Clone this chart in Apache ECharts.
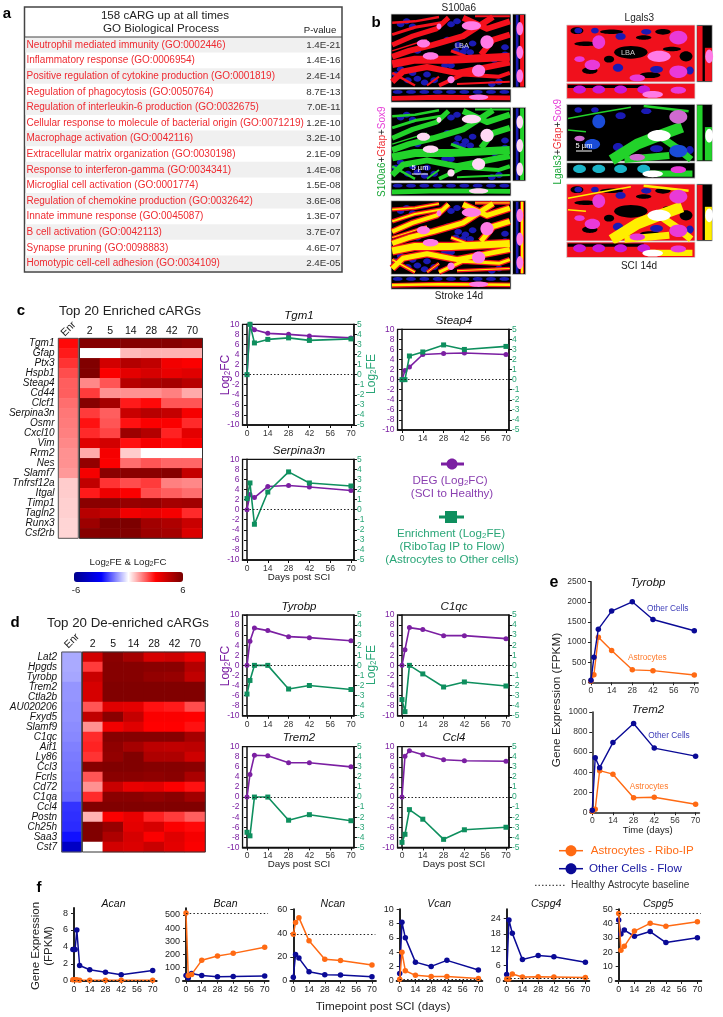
<!DOCTYPE html>
<html><head><meta charset="utf-8">
<style>html,body{margin:0;padding:0;background:#fff}#c{width:723px;height:1017px}</style>
<script src="https://cdn.jsdelivr.net/npm/echarts@6/dist/echarts.min.js"></script>
</head><body><div id="c"></div>
<script>
/* ---------- data ---------- */
const goTerms = ["Neutrophil mediated immunity (GO:0002446)","Inflammatory response (GO:0006954)","Positive regulation of cytokine production (GO:0001819)","Regulation of phagocytosis (GO:0050764)","Regulation of interleukin-6 production (GO:0032675)","Cellular response to molecule of bacterial origin (GO:0071219)","Macrophage activation (GO:0042116)","Extracellular matrix organization (GO:0030198)","Response to interferon-gamma (GO:0034341)","Microglial cell activation (GO:0001774)","Regulation of chemokine production (GO:0032642)","Innate immune response (GO:0045087)","B cell activation (GO:0042113)","Synapse pruning (GO:0098883)","Homotypic cell-cell adhesion (GO:0034109)"];
const goP = ["1.4E-21","1.4E-16","2.4E-14","8.7E-13","7.0E-11","1.2E-10","3.2E-10","2.1E-09","1.4E-08","1.5E-08","3.6E-08","1.3E-07","3.7E-07","4.6E-07","2.4E-05"];

const hmCols = ["2","5","14","28","42","70"];
const enrichedGenes = ["Tgm1","Gfap","Ptx3","Hspb1","Steap4","Cd44","Clcf1","Serpina3n","Osmr","Cxcl10","Vim","Rrm2","Nes","Slamf7","Tnfrsf12a","Itgal","Timp1","Tagln2","Runx3","Csf2rb"];
const enrichedEnr = [2.9,2.7,2.4,2.1,1.9,1.9,1.7,1.6,1.55,1.5,1.4,1.3,1.3,1.2,0.6,0.6,0.55,0.55,0.5,0.5];
const enrichedFC = [
[5.7,5.7,5.7,5.7,5.7,5.5],[0,0,0.8,0.9,0.9,0.9],[5.8,4,4.7,4.4,3.3,3.1],[5.8,3.1,3.6,3.9,3.5,3.7],[1.4,2,4.6,4.9,5,4.6],
[2.3,1.3,1.3,1.3,1.5,1.0],[5.7,5,2.7,2.9,2,2],[2.3,1.9,4.2,4.6,4.3,3.2],[2.8,2,2.8,3.1,3.1,2.5],[2.5,2.2,5.2,4.7,2.6,3.6],
[3.7,4,2.8,3.2,2.9,3.1],[1,3.2,0.6,0,0,0],[5.4,3.1,1.7,2,1.8,1.8],[3.2,5.6,5.6,5.6,5.7,4.3],[4.4,2.4,2.1,2.3,1.5,1.4],
[2.7,3.4,3.1,2.1,1.9,1.7],[5.6,5.6,5.3,5.4,5,5.1],[4.6,4.3,3.3,3.5,3.2,2.5],[5.2,5.9,5.9,5.1,4.8,4.2],[5.7,5.8,5.8,5.2,5,3.8]];

const deenrichedGenes = ["Lat2","Hpgds","Tyrobp","Trem2","Ctla2b","AU020206","Fxyd5","Slamf9","C1qc","Aif1","Ly86","Ccl3","Fcrls","Cd72","C1qa","Ccl4","Postn","Ch25h","Saa3","Cst7"];
const deenrichedEnr = [-1,-1,-1.05,-1.25,-1.25,-1.3,-1.3,-1.35,-1.4,-1.5,-1.55,-1.6,-1.65,-1.7,-1.8,-2.4,-2.45,-2.5,-2.8,-4.5];
const deenrichedFC = [
[4,5.6,5,3.9,4.1,3.5],[2.3,5.7,5.7,5.6,5.6,4.7],[4.2,5.7,5.7,5.4,5.3,4.4],[3.9,5.8,5.8,5.8,5.8,5.8],[3.9,5.8,5.8,5.8,5.8,5.8],
[2,3.7,3.6,2.8,2.7,2.1],[4.4,5.6,4.3,3.1,3.1,3],[1.3,3.3,3.7,3,3,2.8],[2.5,5.7,5.7,5.7,5.7,5],[2.6,5.5,5,4.5,4.4,4.5],
[2.4,5.4,5.8,4.8,4.8,4.1],[5.7,5.8,5.8,5.7,5.7,5.6],[2,5.6,5.6,5.5,5.6,4.9],[1.3,4.2,3.5,3.6,3.1,2.8],[2.5,5.6,5.6,5.4,5.6,5.1],
[5.8,5.8,5.8,5.8,5.8,5.8],[0.9,3.1,3.5,2.6,2.3,1.9],[5.8,5.3,3.6,3.9,3.1,2.9],[5.8,4.8,3.9,3.1,3.7,3.2],[0,4,3.8,4.2,3.6,3.1]];

const days = [0,2,5,14,28,42,70];
const dayTicks = [0,14,28,42,56,70];
const tgm1FC = [0,10,8.9,8.2,8.0,7.7,7.3],           tgm1FE = [0,5,3.15,3.5,3.65,3.4,3.55];
const steap4FC = [0,1.8,2.5,5,5.2,5.3,5],            steap4FE = [0,0,2.35,2.75,3.45,3,3.3];
const serpina3nFC = [0,3,2.4,4.6,4.8,4.5,3.8],       serpina3nFE = [1.1,2.65,-1.45,1.75,3.75,2.65,2.35];
const tyrobpFC = [0,4.8,7.4,6.9,5.7,5.5,4.9],        tyrobpFE = [-2.85,-1.5,0,0,-2.35,-2,-2.4];
const c1qcFC = [0,3.1,7.5,7.1,5.9,5.9,5.3],          c1qcFE = [-3.4,-4.6,0,-0.85,-2.15,-1.65,-2.05];
const trem2FC = [0,4.5,8.3,8.2,6.8,6.8,6],           trem2FE = [-3.5,-3.85,0,0,-2.3,-1.75,-2.35];
const ccl4FC = [0,8.1,9.2,8.4,7.4,7.2,7.1],          ccl4FE = [-4.5,-3.7,-1.25,-2.2,-4.2,-3.25,-3];

const tyrobpOther = [50,620,1320,1770,2000,1560,1280], tyrobpAstro = [30,190,1120,790,310,290,180];
const trem2Other = [20,545,445,695,885,640,560],       trem2Astro = [10,30,415,380,145,150,80];

const acanDays = [-1,1,2.5,5,14,28,42,70];
const acanOther = [3.7,3.7,6,1.8,1.3,1,0.7,1.2],  acanAstro = [0.1,0.1,0.1,0.05,0.05,0.05,0.05,0.05];
const bcanOther = [40,20,55,40,30,32,35],         bcanAstro = [515,40,48,155,188,208,255];
const ncanOther = [3,22,19,7.5,5,4.8,3.4],        ncanAstro = [39,49,53,33.5,18,17,13.2];
const vcanOther = [1,8.2,6,2.6,2,2.85,1.5],       vcanAstro = [0.2,4,1.4,0.75,0.6,0.6,0.3];
const cspg4Other = [2.5,23.3,18.2,8.2,9.7,9.3,7.2], cspg4Astro = [0.8,0.8,2.7,1.5,1.6,1.5,1.3];
const cspg5Other = [42.5,32.8,35.5,31.2,34.5,26.8,30.2], cspg5Astro = [47,21.5,24.2,34.8,40.2,38.2,41.3];

/* ---------- styles ---------- */
const FONT='"Liberation Sans",Arial,sans-serif';
const PUR='#7b1fa2', GRN='#0e8f5e', GRNT='#2aa678', ORG='#ff6a13', NAVY='#0a0a96', TXT='#222';
const option={animation:false,backgroundColor:'#fff',textStyle:{fontFamily:FONT},
  grid:[],xAxis:[],yAxis:[],series:[],graphic:{elements:[]},visualMap:[]};
const G=option.graphic.elements;
function T(x,y,text,o={}){
  G.push({type:'text',x,y,rotation:o.rot||0,z:50,silent:true,style:{text,fontFamily:FONT,fontSize:o.s||10,fontStyle:o.i?'italic':'normal',
    fontWeight:o.b?'bold':'normal',fill:o.c||TXT,align:o.a||'center',verticalAlign:'middle',rich:o.rich}});
}
function R(x,y,w,h,fill,stroke,lw,z){G.push({type:'rect',z:z||5,silent:true,shape:{x,y,width:w,height:h},style:{fill:fill||'none',stroke:stroke||'none',lineWidth:lw||0}});}
function addGrid(left,top,width,height,extra){option.grid.push(Object.assign({left,top,width,height},extra||{}));return option.grid.length-1;}

/* ---------- a: table ---------- */
R(24.5,7,317.5,265,'#fff','#444',1.5);
goTerms.forEach((t,i)=>{
  const y=37+i*15.6;
  if(i%2===0) R(25.5,y,315.5,15.6,'#f0f0f0');
  T(26.5,y+8,t,{a:'left',s:10,c:'#ee2a30'});
  T(340.5,y+8,goP[i],{a:'right',s:9.8,c:'#333'});
});
G.push({type:'line',z:6,silent:true,shape:{x1:24.5,y1:37,x2:342,y2:37},style:{stroke:'#444',lineWidth:1}});
T(165,16,'158 cARG up at all times',{s:11.6,c:'#222'});
T(161,29,'GO Biological Process',{s:11.6,c:'#222'});
T(320,30,'P-value',{s:9.6,c:'#222'});

/* ---------- b: micrographs (schematic stand-ins for photographs) ---------- */
const fibersS=[[[[.01,.12],[.2,.1],[.4,.04]],2.5],[[[.01,.28],[.2,.18],[.42,.12]],3],[[[.01,.42],[.18,.3],[.38,.2],[.48,.05]],5],[[[.01,.58],[.15,.5],[.35,.42],[.6,.3],[.85,.04]],6],
 [[[.01,.68],[.2,.62],[.5,.62],[.99,.58]],8],[[[.01,.92],[.1,.78],[.3,.72],[.55,.8],[.99,.66]],6],[[[.4,.97],[.6,.82],[.9,.85],[.99,.8]],4],
 [[[.6,.05],[.8,.2],[.99,.1]],6],[[[.75,.55],[.85,.35],[.99,.28]],6],[[[.01,.8],[.2,.97]],2.5],[[[.5,.5],[.7,.62]],3],[[[.7,.03],[.99,.03]],2],[[[.01,.5],[.3,.35]],1.5],[[[.55,.95],[.99,.92]],2],[[[.3,.97],[.4,.85]],2]];
const nucS=[[.67,.16,.08,.06],[.27,.4,.055,.055],[.33,.57,.065,.05],[.8,.38,.055,.09],[.73,.77,.055,.08],[.5,.89,.03,.05],[.4,.17,.02,.04]];
const blueS=[[.22,.88],[.3,.82],[.14,.9],[.28,.93],[.36,.9],[.18,.8],[.08,.14],[.13,.1],[.18,.17],[.56,.42],[.62,.46],[.68,.4],[.6,.52],[.66,.52],[.54,.5],[.95,.45],[.95,.55],[.8,.6],[.86,.62],[.08,.75],[.04,.82],[.45,.7],[.5,.7],[.9,.92],[.84,.95],[.55,.1],[.5,.14],[.22,.5],[.47,.35]];
function ell(cx,cy,rx,ry,fill,z){G.push({type:'ellipse',z:z||6,silent:true,shape:{cx,cy,rx,ry},style:{fill}});}
function poly(pts,w,c,z){G.push({type:'polyline',z:z||6,silent:true,shape:{points:pts},style:{stroke:c,lineWidth:w,fill:'none',lineJoin:'round'}});}
function micS(x,y,w,h,mode){
  R(x,y,w,h,'#000');
  blueS.forEach(b=>ell(x+b[0]*w,y+b[1]*h,3.8,3,'#1a1ab4'));
  const map=p=>[x+p[0]*w,y+p[1]*h];
  if(mode!=='g') fibersS.forEach(f=>poly(f[0].map(map),f[1]+(mode==='m'?1.5:0),'#f5101c'));
  if(mode!=='r') fibersS.forEach(f=>poly(f[0].map(map),Math.max(1,f[1]-(mode==='m'?1:0)),mode==='m'?'#ffee00':'#22d22a'));
  nucS.forEach(n=>ell(x+n[0]*w,y+n[1]*h,n[2]*w,n[3]*h,mode==='g'?'#ffd8f4':'#ff7be6'));
  R(x,y,w,h,'none','#d8d8d8',.8);
}
function stripH(x,y,w,h,mode){
  R(x,y,w,h,'#000');
  for(let i=0;i<9;i++) ell(x+(i+.5)*w/9,y+h*.22,w/24,h*.14,'#1a1ab4');
  poly([[x+1,y+h*.7],[x+w*.4,y+h*.62],[x+w-1,y+h*.66]],h*.36,mode==='g'?'#22d22a':'#f5101c');
  if(mode==='m') poly([[x+1,y+h*.68],[x+w*.4,y+h*.62],[x+w-1,y+h*.66]],h*.2,'#ffee00');
  ell(x+w*.73,y+h*.62,w*.08,h*.2,mode==='g'?'#ffd8f4':'#ff7be6');
  R(x,y,w,h,'none','#d8d8d8',.8);
}
function stripV(x,y,w,h,mode){
  R(x,y,w,h,'#000');
  poly([[x+w*.72,y+1],[x+w*.72,y+h-1]],w*.3,mode==='g'?'#22d22a':'#f5101c');
  if(mode==='m') poly([[x+w*.72,y+1],[x+w*.72,y+h-1]],w*.16,'#ffee00');
  poly([[x+w*.35,y+1],[x+w*.35,y+h-1]],w*.2,'#1a1ab4');
  [.2,.52,.84].forEach(f=>ell(x+w*.55,y+h*f,w*.25,h*.09,mode==='g'?'#ffd8f4':'#ff7be6'));
  R(x,y,w,h,'none','#d8d8d8',.8);
}
[[14,89,'r'],[107.3,182.7,'g'],[200.7,276,'m']].forEach(p=>{
  micS(391,p[0],120,73.7,p[2]);stripH(391,p[1],120,13.3,p[2]);stripV(512.5,p[0],13.3,73.7,p[2]);
});
T(462,46,'LBA',{s:7.5,c:'#ccc'});
/* Lgals3 */
const gapsL=[[.5,.48,.13,.11],[.15,.33,.09,.04],[.35,.12,.09,.04],[.18,.8,.06,.06],[.82,.42,.07,.04],[.65,.88,.08,.05],[.93,.55,.05,.09],[.08,.1,.05,.06],[.6,.22,.06,.04],[.33,.6,.04,.06],[.75,.12,.06,.05]];
const nucL=[[.72,.55,.09,.1],[.25,.3,.05,.12],[.87,.22,.07,.12],[.87,.82,.07,.11],[.55,.93,.06,.06],[.2,.7,.06,.09],[.1,.6,.04,.05]];
const blueL=[[.42,.2,.04,.06],[.62,.12,.04,.05],[.09,.1,.03,.05],[.4,.75,.04,.07],[.7,.78,.05,.06],[.96,.8,.03,.07],[.22,.1,.03,.05]];
const gFib=[[[[.35,.98],[.55,.7],[.72,.55],[.9,.4]],11],[[[.72,.55],[.85,.75],[.97,.97]],7],[[[.01,.25],[.25,.15],[.5,.05]],1.5],[[[.01,.45],[.15,.48]],1.5],[[[.6,.03],[.95,.12]],2.5],[[[.45,.97],[.8,.9]],7]];
function micL(x,y,w,h,mode){
  R(x,y,w,h,mode==='g'?'#000':'#f0101c');
  if(mode!=='g') gapsL.forEach(b=>ell(x+b[0]*w,y+b[1]*h,b[2]*w,b[3]*h,'#000'));
  blueL.forEach(b=>ell(x+b[0]*w,y+b[1]*h,b[2]*w,b[3]*h,'#1a1ab4'));
  const map=p=>[x+p[0]*w,y+p[1]*h];
  if(mode!=='r') gFib.forEach(f=>poly(f[0].map(map),f[1],mode==='m'?'#ffee00':'#22d22a'));
  nucL.forEach((n,i)=>ell(x+n[0]*w,y+n[1]*h,n[2]*w,n[3]*h,i===0?(mode==='r'?'#ff7be6':'#fff'):(mode==='g'?(i%2?'#1a4cd8':'#d06ad0'):'#e93ad8')));
  R(x,y,w,h,'none','#d8d8d8',.8);
}
function stripHL(x,y,w,h,mode){
  R(x,y,w,h,mode==='g'?'#000':'#f0101c');
  if(mode!=='g') poly([[x+1,y+h*.2],[x+w*.6,y+h*.2]],h*.2,'#000');
  if(mode!=='r') poly([[x+w*.65,y+h*.7],[x+w*.98,y+h*.7]],h*.4,mode==='m'?'#ffee00':'#22d22a');
  [.1,.25,.42,.6].forEach(f=>ell(x+w*f,y+h*.4,w*.05,h*.26,mode==='g'?'#1ab4c8':'#c818d8'));
  ell(x+w*.67,y+h*.72,w*.08,h*.22,mode==='r'?'#ff7be6':'#fff');
  ell(x+w*.87,y+h*.45,w*.06,h*.22,'#e93ad8');
  R(x,y,w,h,'none','#d8d8d8',.8);
}
function stripVL(x,y,w,h,mode){
  R(x,y,w,h,'#000');
  poly([[x+w*.2,y+1],[x+w*.2,y+h-1]],w*.35,mode==='g'?'#22d22a':'#f0101c');
  poly([[x+w*.75,y+h*.4],[x+w*.75,y+h-1]],w*.45,mode==='g'?'#22d22a':(mode==='m'?'#ffee00':'#f0101c'));
  ell(x+w*.8,y+h*.55,w*.25,h*.12,mode==='r'?'#ff7be6':'#fff');
  R(x,y,w,h,'none','#d8d8d8',.8);
}
[[25,83.3,'r'],[104.3,162.7,'g'],[184,242,'m']].forEach(p=>{
  micL(566.7,p[0],128.3,57,p[2]);stripHL(566.7,p[1],128.3,15.5,p[2]);stripVL(696.7,p[0],15.6,57,p[2]);
});
T(628,53,'LBA',{s:7.5,c:'#ccc'});
/* scale bars */
T(420,168,'5 µm',{s:7.5,c:'#fff'});
poly([[412,174],[428,174]],1,'#fff',7);
T(584,146,'5 µm',{s:7.5,c:'#fff'});
poly([[576,151],[592,151]],1,'#fff',7);
T(458.7,8,'S100a6',{s:10});
T(459,296,'Stroke 14d',{s:10});
T(639.3,18,'Lgals3',{s:10});
T(639,266,'SCI 14d',{s:10});
const vertRich={g:{fill:'#17a535',fontSize:10,fontFamily:FONT},k:{fill:'#222',fontSize:10,fontFamily:FONT},r:{fill:'#ee2a30',fontSize:10,fontFamily:FONT},m:{fill:'#e63fd8',fontSize:10,fontFamily:FONT}};
T(382.7,151.7,'{g|S100a6}{k|+}{r|Gfap}{k|+}{m|Sox9}',{rot:Math.PI/2,rich:vertRich,s:10});
T(558,141.7,'{g|Lgals3}{k|+}{r|Gfap}{k|+}{m|Sox9}',{rot:Math.PI/2,rich:vertRich,s:10});

/* ---------- c/d: heatmaps ---------- */
const hmSeries=[];
function heat(genes,enr,fc,enrLeft,mainLeft,top,labelRight){
  const g1=addGrid(enrLeft,top,20,200);
  const g2=addGrid(mainLeft,top,123,200);
  const xa1=option.xAxis.length;
  option.xAxis.push({gridIndex:g1,type:'category',data:['Enr'],axisLine:{show:false},axisTick:{show:false},axisLabel:{show:false},splitLine:{show:false}});
  option.xAxis.push({gridIndex:g2,type:'category',data:hmCols,position:'top',axisLine:{show:false},axisTick:{show:false},axisLabel:{fontSize:10.5,color:'#111',margin:2},splitLine:{show:false}});
  const ya1=option.yAxis.length;
  option.yAxis.push({gridIndex:g1,type:'category',inverse:true,data:genes,axisLine:{show:false},axisTick:{show:false},
     axisLabel:{interval:0,fontSize:10,fontStyle:'italic',color:'#111',margin:enrLeft-labelRight},splitLine:{show:false}});
  option.yAxis.push({gridIndex:g2,type:'category',inverse:true,data:genes,show:false});
  option.series.push({type:'heatmap',xAxisIndex:xa1,yAxisIndex:ya1,data:enr.map((v,i)=>[0,i,v]),itemStyle:{borderWidth:0},silent:true,z:2});
  hmSeries.push(option.series.length-1);
  const d=[];fc.forEach((r,i)=>r.forEach((v,j)=>d.push([j,i,v])));
  option.series.push({type:'heatmap',xAxisIndex:xa1+1,yAxisIndex:ya1+1,data:d,itemStyle:{borderWidth:0},silent:true,z:2});
  hmSeries.push(option.series.length-1);
  R(enrLeft,top,20,200,'none','#555',1,9);
  R(mainLeft,top,123,200,'none','#333',1,9);
}
heat(enrichedGenes,enrichedEnr,enrichedFC,58.3,79.5,338.3,54.5);
heat(deenrichedGenes,deenrichedEnr,deenrichedFC,61.7,82.3,652,57);
T(130,311,'Top 20 Enriched cARGs',{s:13.3});
T(128,623,'Top 20 De-enriched cARGs',{s:13.3});
T(68.5,329,'Enr',{s:10.5,rot:Math.PI/4});
T(72,641,'Enr',{s:10.5,rot:Math.PI/4});
const subRich=(s,c)=>({s:{fontSize:s*.68,fill:c,fontFamily:FONT,padding:[s*.35,0,0,0]},n:{fontSize:s,fill:c,fontFamily:FONT}});
T(128,562,'{n|Log}{s|2}{n|FE & Log}{s|2}{n|FC}',{rich:subRich(9.7,'#222'),s:9.7});
T(76,590,'-6',{s:9.5});
T(183,590,'6',{s:9.5});
option.visualMap.push({type:'continuous',show:true,min:-6,max:6,orient:'horizontal',left:74,top:572,itemWidth:10,itemHeight:109,padding:0,
  calculable:false,realtime:false,text:null,showLabel:false,seriesIndex:hmSeries,
  inRange:{color:['#00008b','#0000ff','#ffffff','#ff0000','#780000']},textStyle:{fontSize:0,color:'transparent'}});

/* ---------- c/d: time courses ---------- */
function dual(name,x0,top,fc,fe,xTitle){
  const sc=111.4/75;
  const left=x0-3*sc;
  const g=addGrid(left,top,111.4,100.7,{show:true,borderColor:'#111',borderWidth:1.3,backgroundColor:'transparent'});
  const xi=option.xAxis.length,yi=option.yAxis.length;
  option.xAxis.push({gridIndex:g,type:'value',min:-3,max:72,axisLine:{onZero:false,lineStyle:{color:'#111',width:1.5}},
    axisTick:{length:3,lineStyle:{color:'#111'},customValues:dayTicks},axisLabel:{fontSize:8.5,color:'#333',margin:4,customValues:dayTicks},splitLine:{show:false}});
  const yb=(c)=>({gridIndex:g,type:'value',axisLine:{show:true,lineStyle:{color:'#111',width:1.5}},axisTick:{show:true,length:3,lineStyle:{color:'#111'}},
    axisLabel:{fontSize:8.5,color:c,margin:3},splitLine:{show:false}});
  option.yAxis.push(Object.assign(yb(PUR),{position:'left',min:-10,max:10,interval:2}));
  option.yAxis.push(Object.assign(yb(GRNT),{position:'right',min:-5,max:5,interval:1}));
  const pair=a=>a.map((v,i)=>[days[i],v]);
  option.series.push({type:'line',xAxisIndex:xi,yAxisIndex:yi,data:pair(fc),symbol:'circle',symbolSize:5,clip:false,lineStyle:{color:PUR,width:1.6},itemStyle:{color:PUR},silent:true,z:3,
    markLine:{silent:true,symbol:'none',label:{show:false},lineStyle:{color:'#222',type:[1.5,2],width:1},data:[{yAxis:0}]}});
  option.series.push({type:'line',xAxisIndex:xi,yAxisIndex:yi+1,data:pair(fe),symbol:'rect',symbolSize:5,clip:false,lineStyle:{color:GRN,width:1.6},itemStyle:{color:GRN},silent:true,z:4});
  T(x0+52,top-8.5,name,{s:11.5,i:true,c:'#111'});
  if(xTitle) T(x0+52,top+118,'Days post SCI',{s:9.8,c:'#222'});
}
dual('Tgm1',247,324.3,tgm1FC,tgm1FE);
dual('Steap4',402,329.3,steap4FC,steap4FE);
dual('Serpina3n',247,459.3,serpina3nFC,serpina3nFE,true);
dual('Tyrobp',247,615,tyrobpFC,tyrobpFE);
dual('C1qc',402,615,c1qcFC,c1qcFE);
dual('Trem2',247,746.7,trem2FC,trem2FE,true);
dual('Ccl4',402,746.7,ccl4FC,ccl4FE,true);
const rot=Math.PI/2;
T(226,375,'{n|Log}{s|2}{n|FC}',{rot,rich:subRich(12,PUR),s:12});
T(372,374,'{n|Log}{s|2}{n|FE}',{rot,rich:subRich(12,GRNT),s:12});
T(226,666,'{n|Log}{s|2}{n|FC}',{rot,rich:subRich(12,PUR),s:12});
T(372,665,'{n|Log}{s|2}{n|FE}',{rot,rich:subRich(12,GRNT),s:12});
/* legend of c */
poly([[441,464],[464,464]],3,PUR,8); ell(452,464,5.5,5.5,PUR,8);
T(450,481,'{n|DEG (Log}{s|2}{n|FC)}',{rich:subRich(11.6,'#8a3fb0'),s:11.6});
T(452,494,'(SCI to Healthy)',{s:11.6,c:'#8a3fb0'});
poly([[439,517],[464,517]],3,GRN,8); R(445,511,12,12,GRN,null,0,8);
T(451,534,'{n|Enrichment (Log}{s|2}{n|FE)}',{rich:subRich(11.6,GRNT),s:11.6});
T(452,547,'(RiboTag IP to Flow)',{s:11.6,c:GRNT});
T(452,560,'(Astrocytes to Other cells)',{s:11.6,c:GRNT});

/* ---------- e ---------- */
function expr(name,left,top,h,yMax,yInt,other,astro,titleY){
  const sc=1.476,w=(72.6+1.2)*sc;
  const g=addGrid(left,top,w,h);
  const xi=option.xAxis.length,yi=option.yAxis.length;
  option.xAxis.push({gridIndex:g,type:'value',min:-1.2,max:72.6,axisLine:{onZero:false,lineStyle:{color:'#222',width:1.5}},
    axisTick:{length:3,lineStyle:{color:'#222'},customValues:dayTicks},axisLabel:{fontSize:8.5,color:'#333',margin:4,customValues:dayTicks},splitLine:{show:false}});
  option.yAxis.push({gridIndex:g,type:'value',min:0,max:yMax,interval:yInt,axisLine:{show:true,lineStyle:{color:'#222',width:1.5}},
    axisTick:{show:true,length:3,lineStyle:{color:'#222'}},axisLabel:{fontSize:8.5,color:'#333',margin:3,formatter:v=>String(v)},splitLine:{show:false}});
  const pair=a=>a.map((v,i)=>[days[i],v]);
  option.series.push({type:'line',xAxisIndex:xi,yAxisIndex:yi,data:pair(astro),symbol:'circle',symbolSize:5.5,clip:false,lineStyle:{color:ORG,width:1.4},itemStyle:{color:ORG},silent:true,z:3});
  option.series.push({type:'line',xAxisIndex:xi,yAxisIndex:yi,data:pair(other),symbol:'circle',symbolSize:5.5,clip:false,lineStyle:{color:NAVY,width:1.4},itemStyle:{color:NAVY},silent:true,z:4});
  T(648,titleY,name,{s:11.5,i:true,c:'#111'});
}
expr('Tyrobp',589.2,581.7,100.6,2500,500,tyrobpOther,tyrobpAstro,583);
expr('Trem2',590.5,712,100.3,1000,200,trem2Other,trem2Astro,710);
T(667.7,609,'Other Cells',{s:8.3,c:'#3a3ab8'});
T(647.3,657.7,'Astrocytes',{s:8.3,c:'#ff7a2a'});
T(669,735.7,'Other Cells',{s:8.3,c:'#3a3ab8'});
T(649,786.7,'Astrocytes',{s:8.3,c:'#ff7a2a'});
T(647.7,830.7,'Time (days)',{s:9.5,c:'#222'});
T(556.7,700,'Gene Expression (FPKM)',{s:11.8,rot:Math.PI/2});
T(554,583,'e',{s:16,b:true,c:'#000'});
/* shared legend */
poly([[559,850.7],[583,850.7]],1.5,ORG,8); ell(571,850.7,5.5,5.5,ORG,8);
T(590.7,850.7,'Astrocytes - Ribo-IP',{a:'left',s:11.6,c:ORG});
poly([[559,868.7],[583,868.7]],1.5,NAVY,8); ell(571,868.7,5.5,5.5,NAVY,8);
T(589,868.7,'Other Cells - Flow',{a:'left',s:11.6,c:'#1414a0'});
G.push({type:'line',z:8,silent:true,shape:{x1:535,y1:885.3,x2:566,y2:885.3},style:{stroke:'#222',lineWidth:1,lineDash:[1.5,2]}});
T(571,885.3,'Healthy Astrocyte baseline',{a:'left',s:10,c:'#333'});

/* ---------- f ---------- */
function cspg(name,x0,yTop,yZero,yMax,ticks,other,astro,base,otherX){
  const sc=1.124,xMin=-2.7,xMax=73.5,w=(xMax-xMin)*sc;
  const g=addGrid(x0+xMin*sc,yTop,w,yZero-yTop);
  const xi=option.xAxis.length,yi=option.yAxis.length;
  option.xAxis.push({gridIndex:g,type:'value',min:xMin,max:xMax,axisLine:{onZero:false,lineStyle:{color:'#222',width:2}},
    axisTick:{length:3,lineStyle:{color:'#222'},customValues:dayTicks},axisLabel:{fontSize:8.8,color:'#222',margin:4,customValues:dayTicks},splitLine:{show:false}});
  option.yAxis.push({gridIndex:g,type:'value',min:0,max:yMax,axisLine:{show:true,lineStyle:{color:'#222',width:2}},
    axisTick:{show:true,length:3,lineStyle:{color:'#222'},customValues:ticks},axisLabel:{fontSize:9,color:'#222',margin:3,customValues:ticks},splitLine:{show:false}});
  const ox=otherX||days;
  const sA={type:'line',xAxisIndex:xi,yAxisIndex:yi,data:astro.map((v,i)=>[ox[i],v]),symbol:'circle',symbolSize:5.5,clip:false,lineStyle:{color:ORG,width:1.5},itemStyle:{color:ORG},silent:true,z:4};
  sA.markLine={silent:true,symbol:'none',label:{show:false},lineStyle:{color:'#222',type:[1.5,2.2],width:1},data:[[{coord:[0,base]},{coord:[73,base]}]]};
  option.series.push({type:'line',xAxisIndex:xi,yAxisIndex:yi,data:other.map((v,i)=>[ox[i],v]),symbol:'circle',symbolSize:5.5,clip:false,lineStyle:{color:NAVY,width:1.5},itemStyle:{color:NAVY},silent:true,z:3});
  option.series.push(sA);
  T(x0+39.5,904,name,{s:10.5,i:true,c:'#111'});
}
cspg('Acan',74,908,980.7,8.6,[0,2,4,6,8],acanOther,acanAstro,0.1,acanDays);
cspg('Bcan',186,908.3,980.7,551,[0,100,200,300,400,500],bcanOther,bcanAstro,510);
cspg('Ncan',293.3,909.3,980.7,60,[0,20,40,60],ncanOther,ncanAstro,39);
cspg('Vcan',399.7,909.3,980.7,10,[0,2,4,6,8,10],vcanOther,vcanAstro,0.15);
cspg('Cspg4',506.7,909.3,981,27.4,[0,6,12,18,24],cspg4Other,cspg4Astro,1);
cspg('Cspg5',618.7,909.3,981,50,[0,10,20,30,40,50],cspg5Other,cspg5Astro,47);
T(35.7,946,'Gene Expression',{s:11.5,rot:Math.PI/2});
T(49,946,'(FPKM)',{s:11.5,rot:Math.PI/2});
T(383,1007,'Timepoint post SCI (days)',{s:11.7});

/* panel letters */
T(7,14,'a',{s:15,b:true,c:'#000'});
T(376,23,'b',{s:15,b:true,c:'#000'});
T(21,311,'c',{s:15,b:true,c:'#000'});
T(15,623,'d',{s:15,b:true,c:'#000'});
T(39,888,'f',{s:15,b:true,c:'#000'});

echarts.init(document.getElementById('c'),null,{renderer:'canvas'}).setOption(option);
</script></body></html>
